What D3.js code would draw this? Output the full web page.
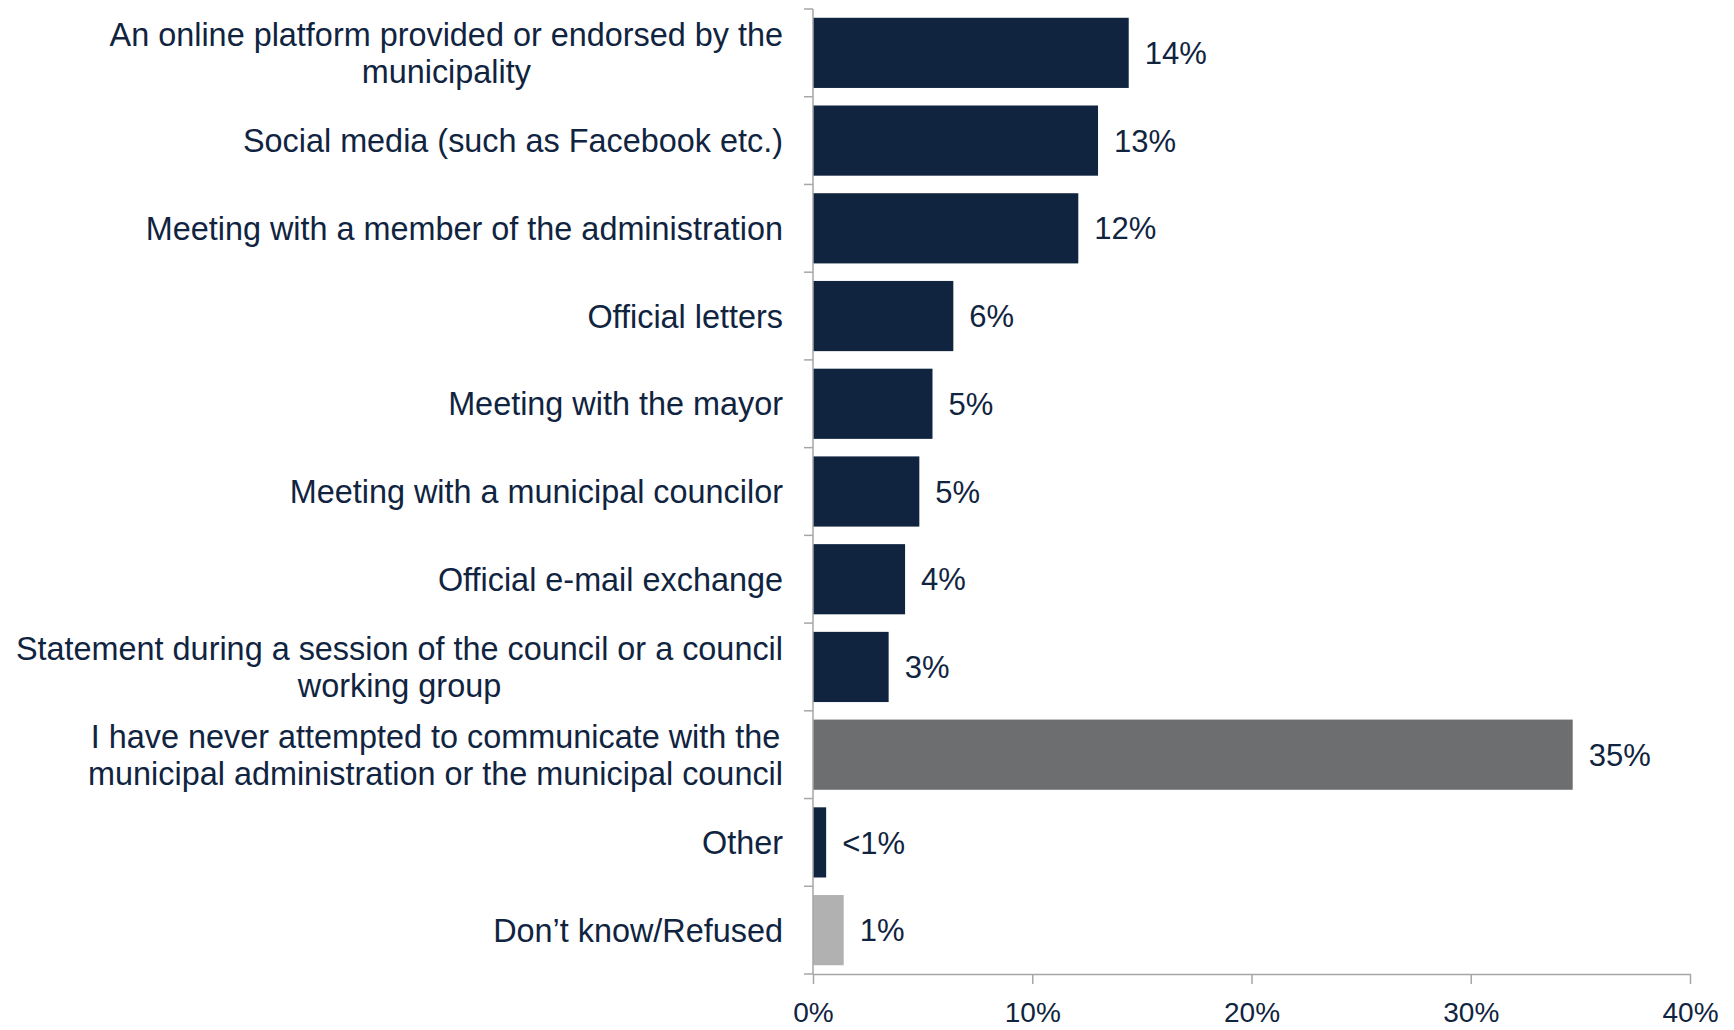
<!DOCTYPE html>
<html><head><meta charset="utf-8">
<script src="https://cdnjs.cloudflare.com/ajax/libs/d3/7.8.5/d3.min.js"></script>
<style>body{margin:0;background:#fff}svg{display:block}text{font-family:"Liberation Sans",Arial,sans-serif;fill:#10243f}</style>
</head><body><svg id="c" width="1734" height="1030"></svg>
<script>
const categories = [
  ["An online platform provided or endorsed by the","municipality"],
  ["Social media (such as Facebook etc.)"],
  ["Meeting with a member of the administration"],
  ["Official letters"],
  ["Meeting with the mayor"],
  ["Meeting with a municipal councilor"],
  ["Official e-mail exchange"],
  ["Statement during a session of the council or a council","working group"],
  ["I have never attempted to communicate with the","municipal administration or the municipal council"],
  ["Other"],
  ["Don\u2019t know/Refused"]
];
const values = [14.4, 13.0, 12.1, 6.4, 5.45, 4.85, 4.2, 3.45, 34.65, 0.6, 1.4];
const valueLabels = ["14%","13%","12%","6%","5%","5%","4%","3%","35%","<1%","1%"];
const groups = ["ch","ch","ch","ch","ch","ch","ch","ch","never","ch","dk"];
const xTicks = [0,10,20,30,40];

const svg = d3.select("#c");
const x = d3.scaleLinear().domain([0,40]).range([813,1690]);
const ids = d3.range(categories.length);
const y = d3.scaleBand().domain(ids).range([9,974]).paddingInner(0.2).paddingOuter(0.1);
const color = d3.scaleOrdinal().domain(["ch","never","dk"]).range(["#10243f","#6d6e70","#b1b1b1"]);
const axisCol = "#a6a6a6";
const fs = 32.4;

// bars
svg.append("g").selectAll("rect").data(ids).join("rect")
  .attr("x", x(0)).attr("y", i => y(i)).attr("height", y.bandwidth())
  .attr("width", i => x(values[i]) - x(0)).attr("fill", i => color(groups[i]));

// value labels
svg.append("g").selectAll("text").data(ids).join("text")
  .attr("x", i => x(values[i]) + 16).attr("y", i => y(i) + y.bandwidth()/2)
  .attr("dy","0.36em").attr("font-size", 31).text(i => valueLabels[i]);

// y axis line + ticks at band boundaries
const step = y.step();
const yStart = y.range()[0];
const yg = svg.append("g");
yg.append("line").attr("x1", x(0)).attr("x2", x(0)).attr("y1", yStart).attr("y2", y.range()[1]).attr("stroke", axisCol).attr("stroke-width",1.5);
yg.selectAll("line.t").data(d3.range(categories.length+1)).join("line").attr("class","t")
  .attr("x1", x(0)-9).attr("x2", x(0)).attr("y1", k => yStart + k*step).attr("y2", k => yStart + k*step)
  .attr("stroke", axisCol).attr("stroke-width",1.5);

// category labels (block right aligned, lines centered)
const lh = 36.5;
const rightEdge = 783;
ids.forEach(i => {
  const lines = categories[i];
  const t = svg.append("text").attr("font-size", fs).attr("text-anchor","middle");
  const ts = lines.map((l, k) => t.append("tspan")
    .attr("y", y(i) + y.bandwidth()/2 + (k - (lines.length-1)/2)*lh).attr("dy","0.36em").text(l));
  const w = d3.max(ts, s => s.node().getComputedTextLength());
  ts.forEach(s => s.attr("x", rightEdge - w/2));
});

// x axis
const xa = d3.axisBottom(x).tickValues(xTicks).tickFormat(d => d + "%").tickSize(10).tickSizeOuter(0);
const xg = svg.append("g").attr("transform", `translate(0,${y.range()[1]})`).call(xa);
xg.select(".domain").attr("stroke", axisCol).attr("stroke-width",1.5);
xg.selectAll(".tick line").attr("stroke", axisCol).attr("stroke-width",1.5);
xg.selectAll(".tick text").attr("font-size", 28).attr("font-family","\"Liberation Sans\",Arial,sans-serif").attr("fill","#10243f").attr("dy","1.25em");
</script></body></html>
